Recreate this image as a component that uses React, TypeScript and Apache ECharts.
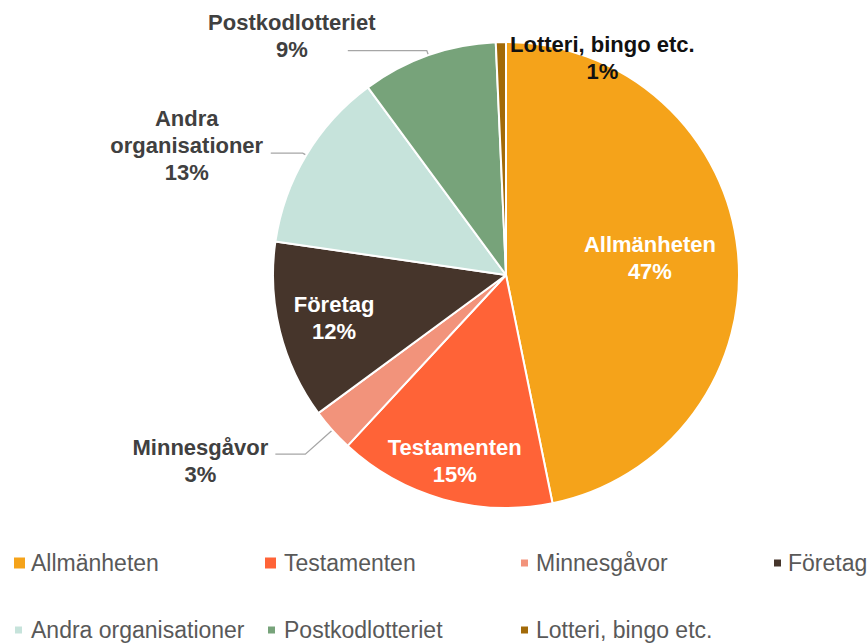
import React, { useEffect, useRef } from "react";
import * as echarts from "echarts";

const categories = [
  "Allmänheten",
  "Testamenten",
  "Minnesgåvor",
  "Företag",
  "Andra organisationer",
  "Postkodlotteriet",
  "Lotteri, bingo etc.",
];
const labelNames = [
  "Allmänheten",
  "Testamenten",
  "Minnesgåvor",
  "Företag",
  "Andra\norganisationer",
  "Postkodlotteriet",
  "Lotteri, bingo etc.",
];
const shares = [46.8, 15.1, 3.0, 12.4, 12.6, 9.4, 0.7];

const colors = ["#F5A31A", "#FF6337", "#F2937B", "#46352B", "#C6E3DB", "#77A37A", "#A26A08"];

const FONT = "'Liberation Sans', Arial, sans-serif";

type LabelCfg = { pos: "inside" | "outside"; color: string; dx: number; dy: number; len?: number; len2?: number };
const labelCfg: LabelCfg[] = [
  { pos: "inside", color: "#ffffff", dx: 25, dy: -5 },
  { pos: "inside", color: "#ffffff", dx: -19, dy: 71 },
  { pos: "outside", color: "#404040", len: 36, len2: 30, dx: -75, dy: 7 },
  { pos: "inside", color: "#ffffff", dx: -56, dy: 14 },
  { pos: "outside", color: "#404040", len: 4, len2: 32, dx: -84, dy: -8 },
  { pos: "outside", color: "#404040", len: 5, len2: 79, dx: -56, dy: -15 },
  { pos: "inside", color: "#111111", dx: 99, dy: -98 },
];

const legendCfg = [
  { left: 12, top: 550, size: 13, textX: 30 },
  { left: 263, top: 550, size: 13, textX: 283 },
  { left: 519, top: 550, size: 9, textX: 535 },
  { left: 772, top: 550, size: 9, textX: 787 },
  { left: 13, top: 617, size: 9, textX: 30 },
  { left: 266, top: 617, size: 9, textX: 283 },
  { left: 519, top: 617, size: 9, textX: 535 },
];

export default function App() {
  const ref = useRef<HTMLDivElement>(null);
  useEffect(() => {
    document.body.style.margin = "0";
    if (!ref.current) return;
    const chart = echarts.init(ref.current, undefined, { renderer: "svg" });
    const data = categories.map((name, i) => {
      const c = labelCfg[i];
      return {
        name,
        value: shares[i],
        itemStyle: { color: colors[i] },
        label: {
          position: c.pos,
          color: c.color,
        },
        labelLine:
          c.pos === "outside"
            ? { show: true, length: c.len, length2: c.len2, lineStyle: { color: "#A6A6A6", width: 1.3 } }
            : { show: false },
      };
    });
    chart.setOption({
      animation: false,
      backgroundColor: "#ffffff",
      legend: categories.map((name, i) => {
        const l = legendCfg[i];
        return {
          data: [name],
          left: l.left,
          top: l.top,
          padding: 0,
          icon: "rect",
          itemWidth: l.size,
          itemHeight: l.size,
          itemGap: 0,
          selectedMode: false,
          textStyle: {
            fontFamily: FONT,
            fontSize: 23,
            color: "#595959",
            lineHeight: 26,
            padding: [0, 0, 0, Math.max(0, l.textX - l.left - l.size - 5)],
          },
        };
      }),
      series: [
        {
          type: "pie",
          center: [506, 275],
          radius: [0, 233],
          startAngle: 90,
          clockwise: true,
          avoidLabelOverlap: false,
          itemStyle: { borderColor: "#ffffff", borderWidth: 2 },
          label: {
            show: true,
            fontFamily: FONT,
            fontSize: 22,
            fontWeight: "bold",
            lineHeight: 27,
            formatter: (p: any) => `${labelNames[p.dataIndex]}\n${Math.round(p.percent)}%`,
          },
          labelLayout: (p: any) => {
            const c = labelCfg[p.dataIndex];
            if (c.pos === "outside" && p.labelLinePoints) {
              const end = p.labelLinePoints[2];
              return {
                x: end[0] + c.dx,
                y: end[1] + c.dy,
                align: "center",
                verticalAlign: "middle",
                labelLinePoints: p.labelLinePoints,
              };
            }
            const r = p.labelRect;
            return {
              x: r.x + r.width / 2 + c.dx,
              y: r.y + r.height / 2 + c.dy,
              align: "center",
              verticalAlign: "middle",
            };
          },
          emphasis: { disabled: true },
          data,
        },
      ],
    });
    return () => chart.dispose();
  }, []);
  return <div ref={ref} style={{ width: 868, height: 644 }} />;
}
